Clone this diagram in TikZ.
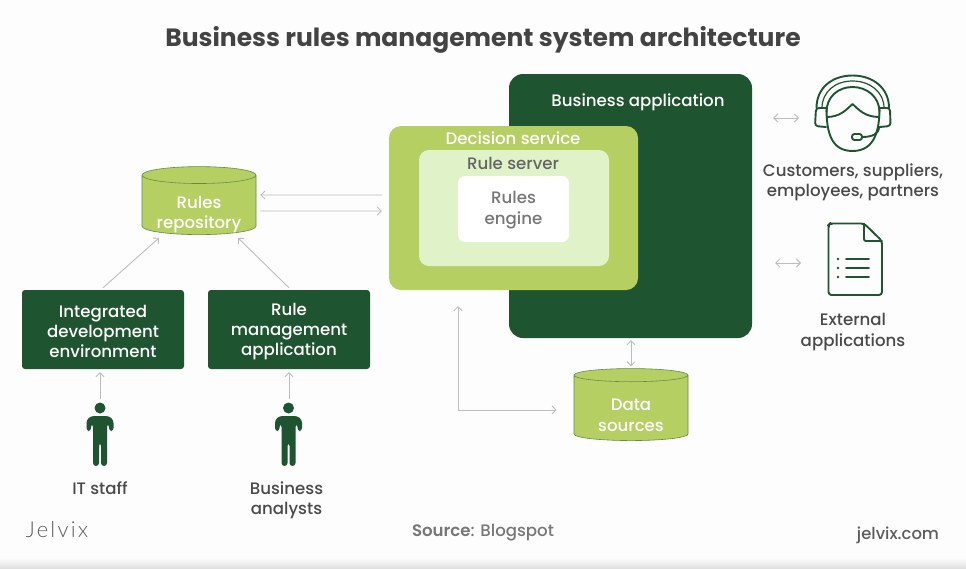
\documentclass[tikz,border=0pt]{standalone}
\usepackage{fontspec}
\usepackage{tikz}
\usetikzlibrary{shapes.geometric, arrows.meta}
\setmainfont{Poppins}[UprightFont=* Medium, BoldFont=* SemiBold]
\newfontfamily\titlefont{Poppins}[UprightFont=* Bold]
\newfontfamily\logofont[LetterSpace=10, UprightFont=* Light]{Lato}
\newcommand{\dropline}[1]{\rule{0pt}{#1}}
\definecolor{darkgreen}{HTML}{1F5430}
\definecolor{midgreen}{HTML}{B5CF63}
\definecolor{palegreen}{HTML}{E0F2C7}
\definecolor{ink}{HTML}{4A4A4A}
\definecolor{arrowgray}{HTML}{BDBDBD}
\definecolor{paper}{HTML}{FDFDFD}

\begin{document}
\begin{tikzpicture}[x=1pt, y=-1pt, >={Straight Barb[length=4pt, width=8pt]},
	label/.style={text=ink, align=center, font=\fontsize{16.6}{20.3}\selectfont},
	onbox/.style={text=white, align=center, font=\fontsize{16.6}{20.6}\selectfont},
	box/.style={fill=darkgreen, text=white, rounded corners=3pt, minimum width=162pt, minimum height=79pt, align=center, font=\fontsize{16.6}{20.3}\selectfont},
	panel/.style={rounded corners=#1, inner sep=0pt},
	store/.style={cylinder, shape border rotate=90, aspect=0.2, draw=darkgreen!55!midgreen, line width=0.6pt, cylinder uses custom fill, cylinder body fill=midgreen, cylinder end fill=midgreen, align=center, inner sep=0pt, font=\fontsize{16.6}{20.6}\selectfont},
	conn/.style={color=arrowgray, line width=0.9pt},
	icon/.style={draw=darkgreen, line width=1.9pt, line cap=round, line join=round},
	person/.pic={
		\fill[darkgreen] (0,-25) circle (5.5);
		\fill[darkgreen, rounded corners=3pt] (-13.5,-2) -- (-13.5,-13) -- (-9,-17) -- (9,-17) -- (13.5,-13) -- (13.5,-2) -- (9,-2) -- (9,-9) -- (7,-9) -- (7,33) -- (1,33) -- (1,10) -- (-1,10) -- (-1,33) -- (-7,33) -- (-7,-9) -- (-9,-9) -- (-9,-2) -- cycle;
	}]
	\useasboundingbox (0,0) rectangle (966,568);
	\fill[paper] (0,0) rectangle (966,568);
	\shade[top color=paper, bottom color=black!12] (0,558) rectangle (966,568);

	\node[text=ink!90!black, font=\fontsize{25}{28}\titlefont] (title) at (483,40) {Business rules management system architecture};

	\node[panel=14pt, fill=darkgreen, minimum width=243pt, minimum height=264pt] (app) at (630.5,206) {};
	\node[onbox] (applabel) at (638,102) {Business application};
	\node[panel=12pt, fill=midgreen, minimum width=249pt, minimum height=164pt] (ds) at (513.5,208) {};
	\node[onbox] (dslabel) at (513,138.5) {Decision service};
	\node[panel=10pt, fill=palegreen, minimum width=190pt, minimum height=116pt] (server) at (514,208) {};
	\node[label, text=ink!85] (serverlabel) at (513,163) {Rule server};
	\node[panel=7pt, fill=white, minimum width=111pt, minimum height=66pt, text=ink!75, align=center, font=\fontsize{16.6}{20.8}\selectfont] (engine) at (513.5,209) {\dropline{14pt}Rules\\engine};

	\node[store, minimum width=114pt, minimum height=68pt] (repo) at (199,205) {\phantom{Rules}\\\phantom{repository}};
	\node[onbox] (repolabel) at (199,214.5) {Rules\\repository};
	\node[store, minimum width=114pt, minimum height=72pt] (data) at (631,408) {\phantom{Data}\\\phantom{sources}};
	\node[onbox] (datalabel) at (631,415.5) {Data\\sources};

	\node[box] (ide) at (103,329.5) {\dropline{16pt}Integrated\\development\\environment};
	\node[box] (rma) at (289,329.5) {\dropline{16pt}Rule\\management\\application};

	\pic (itfigure) at (100,433) {person};
	\pic (bafigure) at (288.5,433) {person};
	\coordinate (itstaff) at (100,399);
	\coordinate (analysts) at (289,399);
	\node[label] (itlabel) at (100,488.5) {IT staff};
	\node[label] (balabel) at (286.5,500) {Business\\analysts};

	\path[conn, ->] ([shift={(-7pt,13pt)}]ds.west) edge ([shift={(4pt,10pt)}]repo.east);
	\path[conn, ->] ([shift={(4pt,-6pt)}]repo.east) edge ([shift={(-7pt,-3pt)}]ds.west);
	\path[conn, ->] ([yshift=2pt]ide.north) edge ([shift={(-40pt,-3pt)}]repo.south);
	\path[conn, ->] ([yshift=2pt]rma.north) edge ([shift={(39pt,-3pt)}]repo.south);
	\path[conn, ->] (itstaff) edge ([shift={(-3pt,-3pt)}]ide.south);
	\path[conn, ->] (analysts) edge ([yshift=-3pt]rma.south);
	\draw[conn, <->] ([shift={(-55.5pt,-16pt)}]ds.south) |- ([shift={(-17pt,-2pt)}]data.west);
	\path[conn, <->] ([yshift=-2pt]app.south -| data.north) edge ([yshift=2pt]data.north);

	\coordinate (headsetend) at (799,118);
	\coordinate (fileend) at (801,263);
	\path[conn, <->] ([shift={(21pt,88pt)}]app.east) edge (headsetend);
	\path[conn, <->] ([shift={(23pt,-57pt)}]app.east) edge (fileend);

	\draw[icon] (826.5,108) .. controls (826.5,130) and (830,151) .. (852.5,151) .. controls (875,151) and (879.5,130) .. (879.5,108);
	\draw[icon] (826.5,117) .. controls (840,117) and (846,110) .. (852.5,104) .. controls (859,110) and (865,117) .. (879.5,117);
	\draw[icon] (816.5,108) .. controls (816.5,88) and (832,75.5) .. (852.5,75.5) .. controls (873,75.5) and (889,88) .. (889,108);
	\draw[icon, line width=1.2pt] (822,108) .. controls (822,92) and (835,81) .. (852.5,81) .. controls (870,81) and (884,92) .. (884,108);
	\draw[icon] (826.5,112) .. controls (826.5,97) and (838,87) .. (852.5,87) .. controls (867,87) and (879.5,97) .. (879.5,112);
	\draw[icon, rounded corners=3pt] (826,108) -- (816,108) -- (815,126) -- (826,127);
	\draw[icon, rounded corners=3pt] (879.5,108) -- (890,108) -- (890.5,126) -- (879.5,127);
	\draw[icon] (879,127) .. controls (879,134) and (872,137) .. (862,137);
	\draw[icon, rounded corners=2.5pt] (852,134) rectangle (862,140);

	\draw[icon, rounded corners=3pt] (864,223.5) -- (830,223.5) -- (828.5,225) -- (828.5,295) -- (882,295) -- (882,241) -- cycle;
	\draw[icon, rounded corners=2pt] (864,223.5) -- (864,241) -- (882,241);
	\foreach \y in {259,268,277} {
		\fill[darkgreen] (838,\y) circle (1.4);
		\draw[icon] (846,\y) -- (869,\y);
	}

	\node[label] (clients) at (853,182) {Customers, suppliers,\\employees, partners};
	\node[label] (extlabel) at (853,332) {External\\applications};

	\node[text=ink!75, font=\fontsize{16.6}{18}\selectfont] (source) at (483,533) {\textbf{Source}: Blogspot};
	\node[text=ink!90, font=\fontsize{16.4}{18}\selectfont] (site) at (898,535) {jelvix.com};
	\node[text=ink!90, font=\fontsize{22}{24}\logofont] (logo) at (57,530) {Jelvix};
\end{tikzpicture}
\end{document}
